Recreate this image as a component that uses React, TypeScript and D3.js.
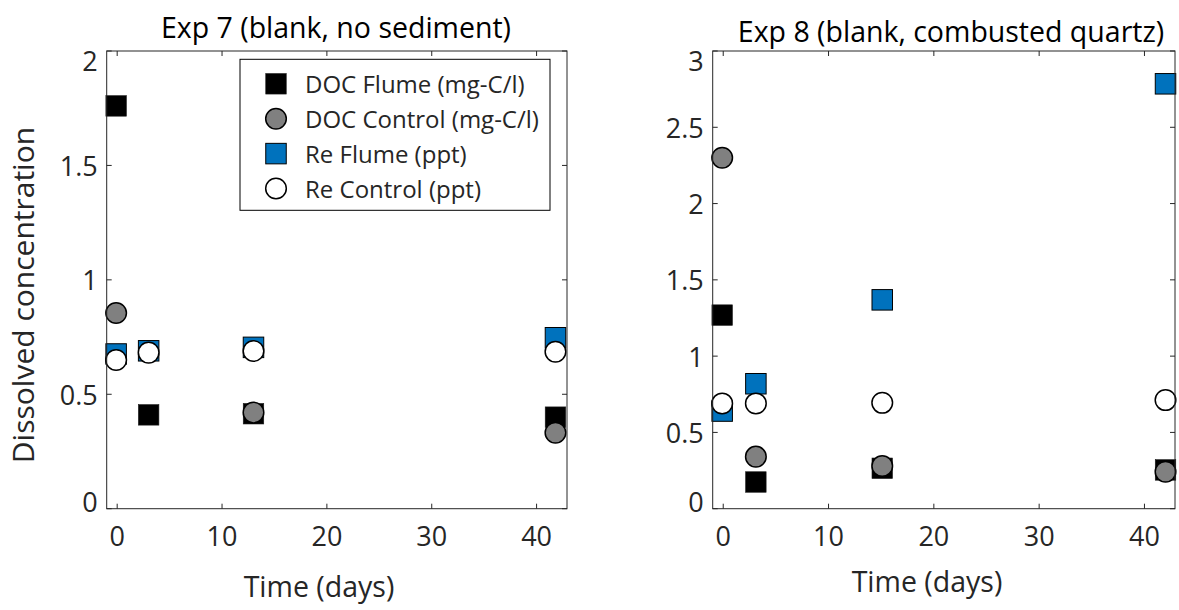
import * as d3 from "d3";

const FONT = "'Open Sans', 'Noto Sans', sans-serif";
const INK = "#262626";
const RE_BLUE = "#0072BD";
const GREY = "#808080";

// Exp 7 (blank, no sediment)
const days7 = [-0.1, 3, 13, 41.8];
const docFlume7 = [1.76, 0.41, 0.415, 0.4];
const docControl7: (number | null)[] = [0.855, null, 0.42, 0.332];
const reFlume7 = [0.676, 0.69, 0.705, 0.747];
const reControl7 = [0.65, 0.682, 0.689, 0.686];

// Exp 8 (blank, combusted quartz)
const days8 = [-0.1, 3.1, 15.1, 42];
const docFlume8 = [1.269, 0.175, 0.265, 0.254];
const docControl8 = [2.3, 0.341, 0.28, 0.242];
const reFlume8 = [0.64, 0.819, 1.369, 2.785];
const reControl8 = [0.69, 0.69, 0.694, 0.712];

const xTicks = [0, 10, 20, 30, 40];
const yTicks7 = [0, 0.5, 1, 1.5, 2];
const yTicks8 = [0, 0.5, 1, 1.5, 2, 2.5, 3];
const seriesNames = [
  "DOC Flume (mg-C/l)",
  "DOC Control (mg-C/l)",
  "Re Flume (ppt)",
  "Re Control (ppt)",
];

// marker style per series, same order as seriesNames
const markers = [
  { shape: "square", fill: "#000000", stroke: "#1a1a1a", sw: 0.6 },
  { shape: "circle", fill: GREY, stroke: "#000000", sw: 1.5 },
  { shape: "square", fill: RE_BLUE, stroke: "#000000", sw: 1 },
  { shape: "circle", fill: "#ffffff", stroke: "#000000", sw: 1.5 },
];

const SQ = 20.5;
const R = 10.3;
const TICK_FS = 27;
const LABEL_FS = 28.5;

const Marker = ({ i, cx, cy }: { i: number; cx: number; cy: number }) => {
  const m = markers[i];
  if (m.shape === "square") {
    return (
      <rect
        x={cx - SQ / 2}
        y={cy - SQ / 2}
        width={SQ}
        height={SQ}
        fill={m.fill}
        stroke={m.stroke}
        strokeWidth={m.sw}
      />
    );
  }
  return <circle cx={cx} cy={cy} r={R} fill={m.fill} stroke={m.stroke} strokeWidth={m.sw} />;
};

type PanelProps = {
  left: number;
  right: number;
  top: number;
  bottom: number;
  yMax: number;
  yTicks: number[];
  days: number[];
  series: (number | null)[][];
  title: string;
  titleX: number;
  titleY: number;
  xLabelX: number;
  xLabelY: number;
};

const Panel = (p: PanelProps) => {
  const x = d3.scaleLinear().domain([-1, 42.9]).range([p.left, p.right]);
  const y = d3.scaleLinear().domain([0, p.yMax]).range([p.bottom, p.top]);
  const tick = 5;

  return (
    <g>
      {/* data */}
      {p.series.map((vals, si) =>
        vals.map((v, j) =>
          v == null ? null : <Marker key={si + "-" + j} i={si} cx={x(p.days[j])} cy={y(v)} />
        )
      )}

      {/* box */}
      <rect
        x={p.left}
        y={p.top}
        width={p.right - p.left}
        height={p.bottom - p.top}
        fill="none"
        stroke={INK}
        strokeWidth={1}
      />

      {/* x ticks */}
      {xTicks.map((t) => (
        <g key={"x" + t}>
          <line x1={x(t)} x2={x(t)} y1={p.bottom} y2={p.bottom - tick} stroke={INK} />
          <line x1={x(t)} x2={x(t)} y1={p.top} y2={p.top + tick} stroke={INK} />
          <text
            x={x(t)}
            y={p.bottom + 27}
            textAnchor="middle"
            dominantBaseline="central"
            fontSize={TICK_FS}
            fill={INK}
          >
            {t}
          </text>
        </g>
      ))}

      {/* y ticks */}
      {p.yTicks.map((t) => {
        const ly = Math.min(Math.max(y(t), p.top + 9.5), p.bottom - 7);
        return (
          <g key={"y" + t}>
            <line x1={p.left} x2={p.left + tick} y1={y(t)} y2={y(t)} stroke={INK} />
            <line x1={p.right} x2={p.right - tick} y1={y(t)} y2={y(t)} stroke={INK} />
            <text
              x={p.left - 9}
              y={ly}
              textAnchor="end"
              dominantBaseline="central"
              fontSize={TICK_FS}
              fill={INK}
            >
              {t}
            </text>
          </g>
        );
      })}

      <text x={p.titleX} y={p.titleY} textAnchor="middle" fontSize={LABEL_FS} fill="#000">
        {p.title}
      </text>
      <text
        x={p.xLabelX}
        y={p.xLabelY}
        textAnchor="middle"
        dominantBaseline="central"
        fontSize={LABEL_FS}
        fill={INK}
      >
        Time (days)
      </text>
    </g>
  );
};

const Legend = ({ x0, y0 }: { x0: number; y0: number }) => {
  const rowGap = 34.9;
  return (
    <g>
      <rect x={x0} y={y0} width={310} height={151} fill="#fff" stroke="#000" strokeWidth={1} />
      {seriesNames.map((name, i) => (
        <g key={name}>
          <Marker i={i} cx={x0 + 36} cy={y0 + 24.5 + i * rowGap} />
          <text
            x={x0 + 65}
            y={y0 + 24.5 + i * rowGap}
            dominantBaseline="central"
            fontSize={24}
            fill={INK}
          >
            {name}
          </text>
        </g>
      ))}
    </g>
  );
};

export default function App() {
  return (
    <svg
      width={1179}
      height={610}
      style={{ position: "absolute", left: 0, top: 0, background: "#fff" }}
      fontFamily={FONT}
    >
      <Panel
        left={106.7}
        right={567}
        top={51}
        bottom={508.7}
        yMax={2}
        yTicks={yTicks7}
        days={days7}
        series={[docFlume7, docControl7, reFlume7, reControl7]}
        title="Exp 7 (blank, no sediment)"
        titleX={336}
        titleY={38}
        xLabelX={319}
        xLabelY={586}
      />
      <Panel
        left={712.7}
        right={1175}
        top={51}
        bottom={508.7}
        yMax={3}
        yTicks={yTicks8}
        days={days8}
        series={[docFlume8, docControl8, reFlume8, reControl8]}
        title="Exp 8 (blank, combusted quartz)"
        titleX={951}
        titleY={42}
        xLabelX={927}
        xLabelY={581}
      />
      <Legend x0={240} y0={59.3} />
      <text
        transform="translate(22,295) rotate(-90)"
        textAnchor="middle"
        dominantBaseline="central"
        fontSize={30}
        fill={INK}
      >
        Dissolved concentration
      </text>
    </svg>
  );
}
